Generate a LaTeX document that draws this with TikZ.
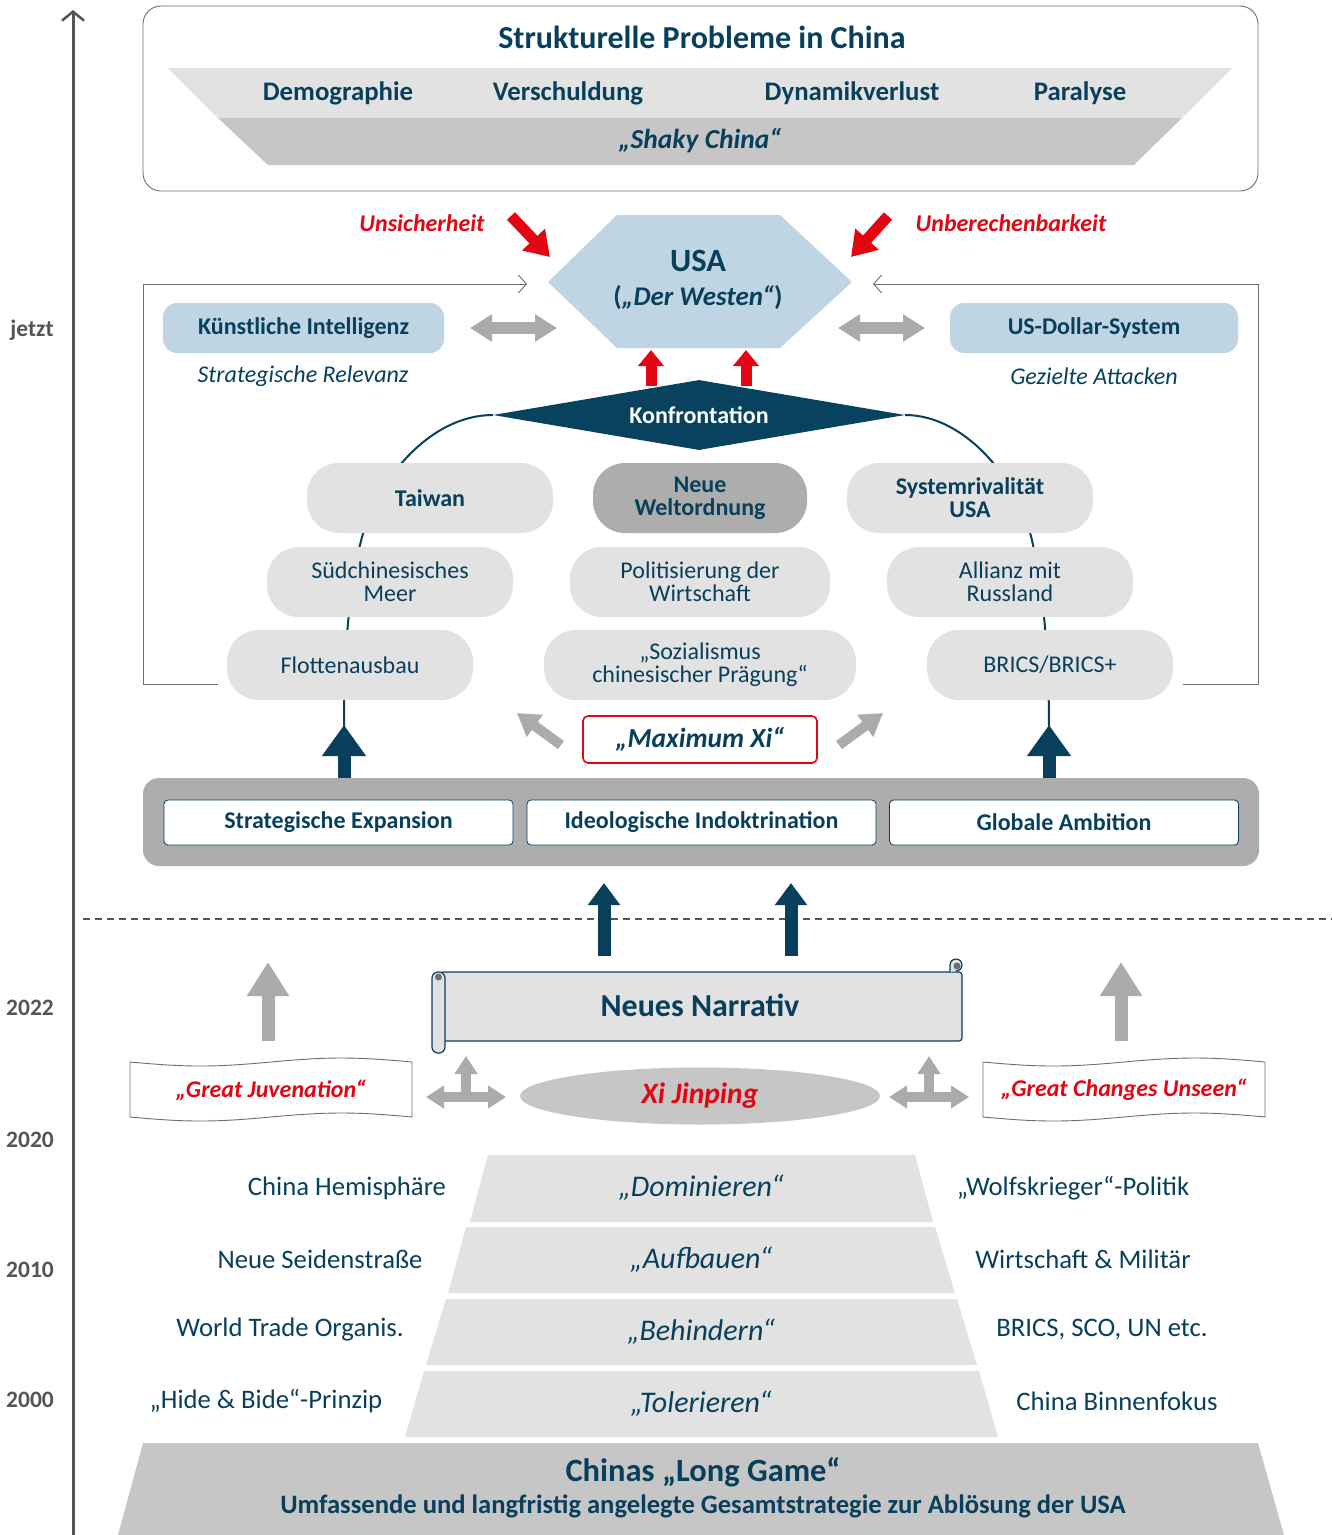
\documentclass[tikz,border=0pt]{standalone}
\usepackage{fontspec}
\setmainfont{Carlito}
\usetikzlibrary{arrows.meta,shapes.geometric}
\definecolor{cTeal}{RGB}{8,64,92}
\definecolor{cDia}{RGB}{8,66,94}
\definecolor{cRed}{RGB}{226,6,19}
\definecolor{cLight}{RGB}{227,226,227}
\definecolor{cMid}{RGB}{199,198,199}
\definecolor{cDark}{RGB}{173,173,173}
\definecolor{cArr}{RGB}{171,171,171}
\definecolor{cBlue}{RGB}{191,213,228}
\definecolor{cAxis}{RGB}{85,85,85}
\definecolor{cFrame}{RGB}{110,110,110}
\newcommand{\fs}[1]{\fontsize{#1}{#1}\selectfont}
\newcommand{\fsl}[2]{\fontsize{#1}{#2}\selectfont}
\begin{document}
\begin{tikzpicture}[x=1pt,y=-1pt,
  txt/.style={text=cTeal, inner sep=0pt, align=center},
  pill/.style={txt, fill=cLight, rounded corners=32pt, minimum width=246pt, minimum height=70pt, font=\fsl{24}{23}},
  bluebox/.style={txt, fill=cBlue, rounded corners=14pt, minimum height=50pt, font=\fs{24}\bfseries},
  whitebox/.style={txt, fill=white, draw=cTeal, line width=0.8pt, rounded corners=4pt, minimum width=349pt, minimum height=45pt, font=\fs{24}\bfseries},
  redlbl/.style={text=cRed, inner sep=0pt, font=\fs{24}\bfseries\itshape},
  yearlbl/.style={text=cAxis, inner sep=0pt, font=\fs{23.5}\bfseries},
  sidelbl/.style={txt, font=\fs{26.7}},
  levellbl/.style={txt, font=\fs{30}\itshape},
  framel/.style={draw=cFrame, line width=0.9pt},
  barb/.style={-{Straight Barb[length=8pt,width=18pt]}},
  redarr/.style={draw=cRed, line width=11pt, -{Triangle[length=24pt,width=30pt]}},
  redup/.style={draw=cRed, line width=11pt, -{Triangle[length=16pt,width=25pt]}},
  grayd/.style={draw=cArr, line width=12pt, {Triangle[length=22pt,width=26pt]}-{Triangle[length=22pt,width=26pt]}},
  graydiag/.style={draw=cArr, line width=10pt, -{Triangle[length=22pt,width=26pt]}},
  grayup/.style={draw=cArr, line width=13pt, -{Triangle[length=34pt,width=40pt]}},
  grayT/.style={draw=cArr, line width=10pt, {Triangle[length=18pt,width=22pt]}-{Triangle[length=18pt,width=22pt]}},
  grayTup/.style={draw=cArr, line width=10pt, -{Triangle[length=18pt,width=22pt]}},
  tealup/.style={draw=cTeal, line width=13pt, -{Triangle[length=31pt,width=42pt]}},
  tealup2/.style={draw=cTeal, line width=13pt, -{Triangle[length=22pt,width=31pt]}},
  chainl/.style={draw=cTeal, line width=2pt},
]
\useasboundingbox (0,0) rectangle (1332,1535);
\fill[white] (0,0) rectangle (1332,1535);

% time axis
\draw[cAxis, line width=3pt, -{Straight Barb[length=9pt,width=22pt,line width=2.5pt]}] (73,1535) -- (73,10);
\node[yearlbl] (jetzt) at (32,330) {jetzt};
\node[yearlbl] (y2022) at (30,1008) {2022};
\node[yearlbl] (y2020) at (30,1140) {2020};
\node[yearlbl] (y2010) at (30,1270) {2010};
\node[yearlbl] (y2000) at (30,1400) {2000};

% top box
\draw[framel, rounded corners=18pt] (143,6) rectangle (1258,191);
\node[txt, font=\fs{32}\bfseries] (title) at (702,37) {Strukturelle Probleme in China};
\fill[cLight] (168,68) -- (1232,68) -- (1182,118) -- (218,118) -- cycle;
\fill[cMid] (218,118) -- (1182,118) -- (1134,165) -- (268,165) -- cycle;
\node[txt, font=\fs{26.8}\bfseries] (demo) at (338,93) {Demographie};
\node[txt, font=\fs{26.8}\bfseries] (versch) at (568,93) {Verschuldung};
\node[txt, font=\fs{26.8}\bfseries] (dyn) at (852,93) {Dynamikverlust};
\node[txt, font=\fs{26.8}\bfseries] (para) at (1080,93) {Paralyse};
\node[txt, font=\fs{27.5}\bfseries\itshape] (shaky) at (700,141) {„Shaky China“};

% USA
\fill[cBlue] (548,282) -- (617,215) -- (780,215) -- (852,282) -- (780,348) -- (617,348) -- cycle;
\node[txt] (usa) at (698,280) {{\fs{32.5}\bfseries USA}\\[12pt]{\fs{27}\bfseries(\textit{„Der Westen“})}};
\node[redlbl] (unsich) at (422,223) {Unsicherheit};
\node[redlbl] (unber) at (1011,223) {Unberechenbarkeit};
\coordinate (ra1s) at (511,216); \coordinate (ra1e) at (550,257);
\coordinate (ra2s) at (888,216); \coordinate (ra2e) at (851,257);
\draw[redarr] (ra1s) -- (ra1e);
\draw[redarr] (ra2s) -- (ra2e);

% frame
\draw[framel, barb] (218,684) -- (143,684) -- (143,284) -- (527,284);
\draw[framel, barb] (1183,684) -- (1258,684) -- (1258,284) -- (873,284);

\node[bluebox, minimum width=281pt] (ki) at (303.5,328) {Künstliche Intelligenz};
\node[bluebox, minimum width=288pt] (usd) at (1094,328) {US-Dollar-System};
\draw[grayd] (470,328) -- (557,328);
\draw[grayd] (838,328) -- (925,328);
\node[txt, font=\fs{24}\itshape] (strel) at (303,376) {Strategische Relevanz};
\node[txt, font=\fs{24}\itshape] (gez) at (1094,376) {Gezielte Attacken};

% red up arrows
\draw[redup] (651,386) -- (651,350);
\draw[redup] (746,386) -- (746,350);

% Konfrontation
\node[diamond, aspect=5.9, minimum width=412pt, minimum height=70pt, inner sep=0pt, fill=cDia, text=white, font=\fs{24}\bfseries] (konf) at (699,415) {Konfrontation};

% chain lines
\draw[chainl] (konf.west) .. controls (430,415) and (375,480) .. (360,545) .. controls (350,590) and (344,640) .. (344,730);
\draw[chainl] (konf.east) .. controls (965,415) and (1020,480) .. (1033,545) .. controls (1042,590) and (1049,640) .. (1049,730);

% pills
\node[pill, font=\fsl{24}{23}\bfseries] (taiwan) at (430,498) {Taiwan};
\node[pill, fill=cDark, minimum width=214pt, font=\fsl{24}{23}\bfseries] (neue) at (700,498) {Neue\\Weltordnung};
\node[pill, font=\fsl{24}{23}\bfseries] (sysr) at (970,498) {Systemrivalität\\USA};
\node[pill] (sued) at (390,582) {Südchinesisches\\Meer};
\node[pill, minimum width=260pt] (polit) at (700,582) {Politisierung der\\Wirtschaft};
\node[pill] (allianz) at (1010,582) {Allianz mit\\Russland};
\node[pill] (flotte) at (350,665) {Flottenausbau};
\node[pill, minimum width=312pt] (sozial) at (700,665) {„Sozialismus\\chinesischer Prägung“};
\node[pill] (brics) at (1050,665) {BRICS/BRICS+};

% Maximum Xi
\node[txt, draw=cRed, line width=1.6pt, rounded corners=5pt, minimum width=234pt, minimum height=47pt, font=\fs{27.5}\bfseries\itshape] (maxxi) at (700,739.5) {„Maximum Xi“};
\draw[graydiag] (561,745) -- (517,713);
\draw[graydiag] (839,745) -- (883,713);

% teal arrows to chains
\draw[tealup] (344,780) -- (344,725);
\draw[tealup] (1049,780) -- (1049,725);

% band
\fill[cDark, rounded corners=16pt] (143,778) rectangle (1259,866);
\node[whitebox] (strexp) at (338.5,822.5) {Strategische Expansion};
\node[whitebox] (ideo) at (701.5,822.5) {Ideologische Indoktrination};
\node[whitebox] (glob) at (1064,822.5) {Globale Ambition};

% dashed separator
\draw[cAxis, line width=2pt, dash pattern=on 7pt off 5pt] (83,919) -- (1332,919);

% teal arrows from narrative
\draw[tealup2] (604,956) -- (604,883);
\draw[tealup2] (791,956) -- (791,883);

% scroll
\filldraw[fill=cLight, draw=cTeal, line width=1.2pt, rounded corners=3pt] (440,972) rectangle (962,1041);
\filldraw[fill=cLight, draw=cTeal, line width=1.2pt] (950,972) -- (950,965) arc[start angle=180, end angle=-90, radius=6pt] -- (956,971);
\fill[cFrame] (957,966) circle[radius=3.5pt];
\filldraw[fill=cLight, draw=cTeal, line width=1.2pt, rounded corners=6pt] (432,972) rectangle (445,1053);
\fill[cFrame] (438.5,977) circle[radius=3.5pt];
\node[txt, font=\fs{32}\bfseries] (narr) at (700,1005) {Neues Narrativ};

% gray up arrows
\draw[grayup] (268,1041) -- (268,962);
\draw[grayup] (1121,1041) -- (1121,962);

% wave banners
\filldraw[fill=white, draw=cFrame, line width=0.9pt]
  plot[domain=0:282, samples=60] ({130+\x},{1062+4*sin(\x/282*360)})
  -- plot[domain=282:0, samples=60] ({130+\x},{1117+4*sin(\x/282*360)}) -- cycle;
\node[redlbl] (juv) at (271,1090) {„Great Juvenation“};
\filldraw[fill=white, draw=cFrame, line width=0.9pt]
  plot[domain=0:282, samples=60] ({983+\x},{1062+4*sin(\x/282*360)})
  -- plot[domain=282:0, samples=60] ({983+\x},{1117+4*sin(\x/282*360)}) -- cycle;
\node[redlbl] (gcu) at (1124,1090) {„Great Changes Unseen“};

% Xi
\node[ellipse, fill=cMid, minimum width=360pt, minimum height=57pt, inner sep=0pt, text=cRed, font=\fs{29.5}\bfseries\itshape] (xi) at (700,1096) {Xi Jinping};
\draw[grayT] (426,1097) -- (506,1097);
\draw[grayTup] (466,1097) -- (466,1056);
\draw[grayT] (889,1097) -- (969,1097);
\draw[grayTup] (929,1097) -- (929,1056);

% pyramid
\fill[cLight] (488,1155) -- (915,1155) -- (933,1222) -- (470,1222) -- cycle;
\fill[cLight] (466,1227) -- (935,1227) -- (955,1293) -- (448,1293) -- cycle;
\fill[cLight] (446,1299) -- (957,1299) -- (977,1365) -- (426,1365) -- cycle;
\fill[cLight] (424,1371) -- (979,1371) -- (998,1437) -- (405,1437) -- cycle;
\fill[cMid] (143,1443) -- (1258,1443) -- (1284,1535) -- (118,1535) -- cycle;
\node[levellbl] (dom) at (701,1188) {„Dominieren“};
\node[levellbl] (auf) at (701,1260) {„Aufbauen“};
\node[levellbl] (beh) at (701,1332) {„Behindern“};
\node[levellbl] (tol) at (701,1404) {„Tolerieren“};
\node[sidelbl] (chem) at (347,1188) {China Hemisphäre};
\node[sidelbl] (seide) at (320,1259) {Neue Seidenstraße};
\node[sidelbl] (wto) at (290,1330) {World Trade Organis.};
\node[sidelbl] (hide) at (266,1401) {„Hide \& Bide“-Prinzip};
\node[sidelbl] (wolf) at (1073,1188) {„Wolfskrieger“-Politik};
\node[sidelbl] (wirt) at (1083,1259) {Wirtschaft \& Militär};
\node[sidelbl] (brsco) at (1102,1330) {BRICS, SCO, UN etc.};
\node[sidelbl] (binnen) at (1117,1401) {China Binnenfokus};
\node[txt, font=\fs{32.5}\bfseries] (long) at (703,1472) {Chinas „Long Game“};
\node[txt, font=\fs{26.6}\bfseries] (umf) at (703,1506) {Umfassende und langfristig angelegte Gesamtstrategie zur Ablösung der USA};
\end{tikzpicture}
\end{document}
